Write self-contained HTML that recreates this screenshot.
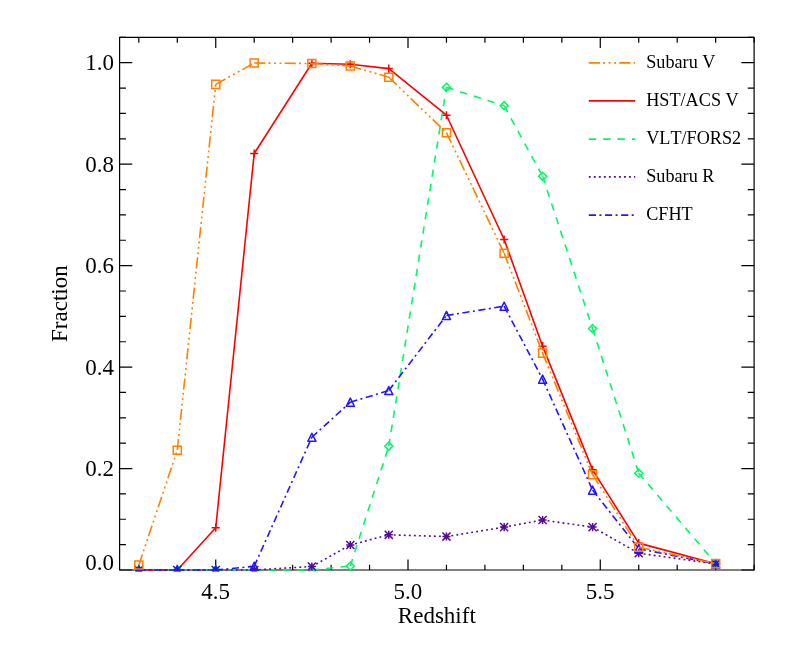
<!DOCTYPE html>
<html><head><meta charset="utf-8"><title>Fraction vs Redshift</title>
<style>
html,body{margin:0;padding:0;background:#fff;}
body{width:789px;height:646px;overflow:hidden;}
svg{display:block;will-change:transform;}
text{font-family:"Liberation Serif",serif;fill:#000;font-kerning:none;}
</style></head><body>
<svg width="789" height="646" viewBox="0 0 789 646">
<rect width="789" height="646" fill="#fff"/>

<g stroke="#000" stroke-width="1.2" fill="none" stroke-linecap="butt">
<rect x="119.6" y="37.36" width="634.50" height="532.64" stroke-linejoin="round"/>
<path d="M138.83 570.0V564.70M138.83 37.36V42.66M177.28 570.0V564.70M177.28 37.36V42.66M215.74 570.0V559.40M215.74 37.36V47.96M254.19 570.0V564.70M254.19 37.36V42.66M292.65 570.0V564.70M292.65 37.36V42.66M331.10 570.0V564.70M331.10 37.36V42.66M369.55 570.0V564.70M369.55 37.36V42.66M408.01 570.0V559.40M408.01 37.36V47.96M446.46 570.0V564.70M446.46 37.36V42.66M484.92 570.0V564.70M484.92 37.36V42.66M523.37 570.0V564.70M523.37 37.36V42.66M561.83 570.0V564.70M561.83 37.36V42.66M600.28 570.0V559.40M600.28 37.36V47.96M638.74 570.0V564.70M638.74 37.36V42.66M677.19 570.0V564.70M677.19 37.36V42.66M715.65 570.0V564.70M715.65 37.36V42.66M754.10 570.0V564.70M754.10 37.36V42.66M119.6 570.00H132.30M754.1 570.00H741.40M119.6 544.64H125.95M754.1 544.64H747.75M119.6 519.27H125.95M754.1 519.27H747.75M119.6 493.91H125.95M754.1 493.91H747.75M119.6 468.54H132.30M754.1 468.54H741.40M119.6 443.18H125.95M754.1 443.18H747.75M119.6 417.82H125.95M754.1 417.82H747.75M119.6 392.45H125.95M754.1 392.45H747.75M119.6 367.09H132.30M754.1 367.09H741.40M119.6 341.73H125.95M754.1 341.73H747.75M119.6 316.36H125.95M754.1 316.36H747.75M119.6 291.00H125.95M754.1 291.00H747.75M119.6 265.63H132.30M754.1 265.63H741.40M119.6 240.27H125.95M754.1 240.27H747.75M119.6 214.91H125.95M754.1 214.91H747.75M119.6 189.54H125.95M754.1 189.54H747.75M119.6 164.18H132.30M754.1 164.18H741.40M119.6 138.82H125.95M754.1 138.82H747.75M119.6 113.45H125.95M754.1 113.45H747.75M119.6 88.09H125.95M754.1 88.09H747.75M119.6 62.72H132.30M754.1 62.72H741.40M119.6 37.36H125.95M754.1 37.36H747.75"/>
</g>
<g font-size="23px">
<text transform="translate(215.54 598.60) scale(1 1.035)" text-anchor="middle">4.5</text>
<text transform="translate(407.81 598.60) scale(1 1.035)" text-anchor="middle">5.0</text>
<text transform="translate(600.08 598.60) scale(1 1.035)" text-anchor="middle">5.5</text>
<text transform="translate(113.90 570.30) scale(1 1.035)" text-anchor="end">0.0</text>
<text transform="translate(113.90 476.24) scale(1 1.035)" text-anchor="end">0.2</text>
<text transform="translate(113.90 374.79) scale(1 1.035)" text-anchor="end">0.4</text>
<text transform="translate(113.90 273.33) scale(1 1.035)" text-anchor="end">0.6</text>
<text transform="translate(113.90 171.88) scale(1 1.035)" text-anchor="end">0.8</text>
<text transform="translate(113.90 70.42) scale(1 1.035)" text-anchor="end">1.0</text>
<text transform="translate(436.80 622.80) scale(1 1.0)" text-anchor="middle">Redshift</text>
<text transform="translate(67.10 303.60) rotate(-90) scale(1 1.0)" text-anchor="middle">Fraction</text>
</g>
<clipPath id="c"><rect x="118.19999999999999" y="35.96" width="637.30" height="535.44"/></clipPath>
<g clip-path="url(#c)">
<path d="M138.83 570.00L177.28 570.00L215.74 527.72L254.19 153.56L311.87 63.26L350.33 64.28L388.78 68.59L446.46 115.23L504.15 239.50L542.60 346.17L592.59 469.87L638.74 543.14L715.65 563.67" fill="none" stroke="#ff0000" stroke-width="1.6" stroke-linejoin="round"/>
<path d="M134.78 570.00H142.88M138.83 565.95V574.05" stroke="#ff0000" stroke-width="1.5" fill="none" stroke-linejoin="round"/>
<path d="M173.23 570.00H181.33M177.28 565.95V574.05" stroke="#ff0000" stroke-width="1.5" fill="none" stroke-linejoin="round"/>
<path d="M211.69 527.72H219.79M215.74 523.67V531.77" stroke="#ff0000" stroke-width="1.5" fill="none" stroke-linejoin="round"/>
<path d="M250.14 153.56H258.24M254.19 149.51V157.61" stroke="#ff0000" stroke-width="1.5" fill="none" stroke-linejoin="round"/>
<path d="M307.82 63.26H315.92M311.87 59.21V67.31" stroke="#ff0000" stroke-width="1.5" fill="none" stroke-linejoin="round"/>
<path d="M346.28 64.28H354.38M350.33 60.23V68.33" stroke="#ff0000" stroke-width="1.5" fill="none" stroke-linejoin="round"/>
<path d="M384.73 68.59H392.83M388.78 64.54V72.64" stroke="#ff0000" stroke-width="1.5" fill="none" stroke-linejoin="round"/>
<path d="M442.41 115.23H450.51M446.46 111.18V119.28" stroke="#ff0000" stroke-width="1.5" fill="none" stroke-linejoin="round"/>
<path d="M500.10 239.50H508.20M504.15 235.45V243.55" stroke="#ff0000" stroke-width="1.5" fill="none" stroke-linejoin="round"/>
<path d="M538.55 346.17H546.65M542.60 342.12V350.22" stroke="#ff0000" stroke-width="1.5" fill="none" stroke-linejoin="round"/>
<path d="M588.54 469.87H596.64M592.59 465.82V473.92" stroke="#ff0000" stroke-width="1.5" fill="none" stroke-linejoin="round"/>
<path d="M634.69 543.14H642.79M638.74 539.09V547.19" stroke="#ff0000" stroke-width="1.5" fill="none" stroke-linejoin="round"/>
<path d="M711.60 563.67H719.70M715.65 559.62V567.72" stroke="#ff0000" stroke-width="1.5" fill="none" stroke-linejoin="round"/>
<path d="M138.83 570.00L177.28 570.00M177.28 570.00L215.74 570.00M215.74 570.00L254.19 570.00M254.19 570.00L311.87 570.00M311.87 570.00L350.33 566.00M350.33 566.00L388.78 446.10M388.78 446.10L446.46 87.35M446.46 87.35L504.15 105.70M504.15 105.70L542.60 176.32M542.60 176.32L592.59 328.52M592.59 328.52L638.74 473.17M638.74 473.17L715.65 563.42" fill="none" stroke="#00fa64" stroke-width="1.6" stroke-dasharray="7.4 6.95" stroke-linejoin="round"/>
<path d="M134.78 570.00L138.83 565.95L142.88 570.00L138.83 574.05Z" stroke="#00fa64" stroke-width="1.5" fill="none" stroke-linejoin="miter"/>
<path d="M173.23 570.00L177.28 565.95L181.33 570.00L177.28 574.05Z" stroke="#00fa64" stroke-width="1.5" fill="none" stroke-linejoin="miter"/>
<path d="M211.69 570.00L215.74 565.95L219.79 570.00L215.74 574.05Z" stroke="#00fa64" stroke-width="1.5" fill="none" stroke-linejoin="miter"/>
<path d="M250.14 570.00L254.19 565.95L258.24 570.00L254.19 574.05Z" stroke="#00fa64" stroke-width="1.5" fill="none" stroke-linejoin="miter"/>
<path d="M307.82 570.00L311.87 565.95L315.92 570.00L311.87 574.05Z" stroke="#00fa64" stroke-width="1.5" fill="none" stroke-linejoin="miter"/>
<path d="M346.28 566.00L350.33 561.95L354.38 566.00L350.33 570.05Z" stroke="#00fa64" stroke-width="1.5" fill="none" stroke-linejoin="miter"/>
<path d="M384.73 446.10L388.78 442.05L392.83 446.10L388.78 450.15Z" stroke="#00fa64" stroke-width="1.5" fill="none" stroke-linejoin="miter"/>
<path d="M442.41 87.35L446.46 83.30L450.51 87.35L446.46 91.40Z" stroke="#00fa64" stroke-width="1.5" fill="none" stroke-linejoin="miter"/>
<path d="M500.10 105.70L504.15 101.65L508.20 105.70L504.15 109.75Z" stroke="#00fa64" stroke-width="1.5" fill="none" stroke-linejoin="miter"/>
<path d="M538.55 176.32L542.60 172.27L546.65 176.32L542.60 180.37Z" stroke="#00fa64" stroke-width="1.5" fill="none" stroke-linejoin="miter"/>
<path d="M588.54 328.52L592.59 324.47L596.64 328.52L592.59 332.57Z" stroke="#00fa64" stroke-width="1.5" fill="none" stroke-linejoin="miter"/>
<path d="M634.69 473.17L638.74 469.12L642.79 473.17L638.74 477.22Z" stroke="#00fa64" stroke-width="1.5" fill="none" stroke-linejoin="miter"/>
<path d="M711.60 563.42L715.65 559.37L719.70 563.42L715.65 567.47Z" stroke="#00fa64" stroke-width="1.5" fill="none" stroke-linejoin="miter"/>
<path d="M138.83 570.00L177.28 570.00M177.28 570.00L215.74 570.00M215.74 570.00L254.19 570.00M254.19 570.00L311.87 566.46M311.87 566.46L350.33 544.96M350.33 544.96L388.78 534.82M388.78 534.82L446.46 536.55M446.46 536.55L504.15 527.11M504.15 527.11L542.60 520.02M542.60 520.02L592.59 527.11M592.59 527.11L638.74 553.28M638.74 553.28L715.65 563.92" fill="none" stroke="#560a9c" stroke-width="1.6" stroke-dasharray="1.9 3.12" stroke-linejoin="round"/>
<path d="M134.78 570.00H142.88M138.83 565.95V574.05M134.78 565.95L142.88 574.05M134.78 574.05L142.88 565.95" stroke="#560a9c" stroke-width="1.5" fill="none" stroke-linejoin="round"/>
<path d="M173.23 570.00H181.33M177.28 565.95V574.05M173.23 565.95L181.33 574.05M173.23 574.05L181.33 565.95" stroke="#560a9c" stroke-width="1.5" fill="none" stroke-linejoin="round"/>
<path d="M211.69 570.00H219.79M215.74 565.95V574.05M211.69 565.95L219.79 574.05M211.69 574.05L219.79 565.95" stroke="#560a9c" stroke-width="1.5" fill="none" stroke-linejoin="round"/>
<path d="M250.14 570.00H258.24M254.19 565.95V574.05M250.14 565.95L258.24 574.05M250.14 574.05L258.24 565.95" stroke="#560a9c" stroke-width="1.5" fill="none" stroke-linejoin="round"/>
<path d="M307.82 566.46H315.92M311.87 562.41V570.51M307.82 562.41L315.92 570.51M307.82 570.51L315.92 562.41" stroke="#560a9c" stroke-width="1.5" fill="none" stroke-linejoin="round"/>
<path d="M346.28 544.96H354.38M350.33 540.91V549.01M346.28 540.91L354.38 549.01M346.28 549.01L354.38 540.91" stroke="#560a9c" stroke-width="1.5" fill="none" stroke-linejoin="round"/>
<path d="M384.73 534.82H392.83M388.78 530.77V538.87M384.73 530.77L392.83 538.87M384.73 538.87L392.83 530.77" stroke="#560a9c" stroke-width="1.5" fill="none" stroke-linejoin="round"/>
<path d="M442.41 536.55H450.51M446.46 532.50V540.60M442.41 532.50L450.51 540.60M442.41 540.60L450.51 532.50" stroke="#560a9c" stroke-width="1.5" fill="none" stroke-linejoin="round"/>
<path d="M500.10 527.11H508.20M504.15 523.06V531.16M500.10 523.06L508.20 531.16M500.10 531.16L508.20 523.06" stroke="#560a9c" stroke-width="1.5" fill="none" stroke-linejoin="round"/>
<path d="M538.55 520.02H546.65M542.60 515.97V524.07M538.55 515.97L546.65 524.07M538.55 524.07L546.65 515.97" stroke="#560a9c" stroke-width="1.5" fill="none" stroke-linejoin="round"/>
<path d="M588.54 527.11H596.64M592.59 523.06V531.16M588.54 523.06L596.64 531.16M588.54 531.16L596.64 523.06" stroke="#560a9c" stroke-width="1.5" fill="none" stroke-linejoin="round"/>
<path d="M634.69 553.28H642.79M638.74 549.23V557.33M634.69 549.23L642.79 557.33M634.69 557.33L642.79 549.23" stroke="#560a9c" stroke-width="1.5" fill="none" stroke-linejoin="round"/>
<path d="M711.60 563.92H719.70M715.65 559.87V567.97M711.60 559.87L719.70 567.97M711.60 567.97L719.70 559.87" stroke="#560a9c" stroke-width="1.5" fill="none" stroke-linejoin="round"/>
<path d="M138.83 570.00L177.28 570.00M177.28 570.00L215.74 570.00M215.74 570.00L254.19 566.31M254.19 566.31L311.87 437.27M311.87 437.27L350.33 402.19M350.33 402.19L388.78 390.53M388.78 390.53L446.46 315.49M446.46 315.49L504.15 306.22M504.15 306.22L542.60 379.17M542.60 379.17L592.59 490.10M592.59 490.10L638.74 548.71M638.74 548.71L715.65 563.92" fill="none" stroke="#2414ff" stroke-width="1.6" stroke-dasharray="7.2 3.4 2.0 3.55" stroke-linejoin="round"/>
<path d="M134.78 574.05L138.83 565.95L142.88 574.05Z" stroke="#2414ff" stroke-width="1.5" fill="none" stroke-linejoin="round"/>
<path d="M173.23 574.05L177.28 565.95L181.33 574.05Z" stroke="#2414ff" stroke-width="1.5" fill="none" stroke-linejoin="round"/>
<path d="M211.69 574.05L215.74 565.95L219.79 574.05Z" stroke="#2414ff" stroke-width="1.5" fill="none" stroke-linejoin="round"/>
<path d="M250.14 570.36L254.19 562.26L258.24 570.36Z" stroke="#2414ff" stroke-width="1.5" fill="none" stroke-linejoin="round"/>
<path d="M307.82 441.32L311.87 433.22L315.92 441.32Z" stroke="#2414ff" stroke-width="1.5" fill="none" stroke-linejoin="round"/>
<path d="M346.28 406.24L350.33 398.14L354.38 406.24Z" stroke="#2414ff" stroke-width="1.5" fill="none" stroke-linejoin="round"/>
<path d="M384.73 394.58L388.78 386.48L392.83 394.58Z" stroke="#2414ff" stroke-width="1.5" fill="none" stroke-linejoin="round"/>
<path d="M442.41 319.54L446.46 311.44L450.51 319.54Z" stroke="#2414ff" stroke-width="1.5" fill="none" stroke-linejoin="round"/>
<path d="M500.10 310.27L504.15 302.17L508.20 310.27Z" stroke="#2414ff" stroke-width="1.5" fill="none" stroke-linejoin="round"/>
<path d="M538.55 383.22L542.60 375.12L546.65 383.22Z" stroke="#2414ff" stroke-width="1.5" fill="none" stroke-linejoin="round"/>
<path d="M588.54 494.15L592.59 486.05L596.64 494.15Z" stroke="#2414ff" stroke-width="1.5" fill="none" stroke-linejoin="round"/>
<path d="M634.69 552.76L638.74 544.66L642.79 552.76Z" stroke="#2414ff" stroke-width="1.5" fill="none" stroke-linejoin="round"/>
<path d="M711.60 567.97L715.65 559.87L719.70 567.97Z" stroke="#2414ff" stroke-width="1.5" fill="none" stroke-linejoin="round"/>
<path d="M138.83 564.99L177.28 450.20M177.28 450.20L215.74 84.40M215.74 84.40L254.19 63.01M254.19 63.01L311.87 63.52M311.87 63.52L350.33 66.05M350.33 66.05L388.78 77.21M388.78 77.21L446.46 132.72M446.46 132.72L504.15 253.23M504.15 253.23L542.60 353.11M542.60 353.11L592.59 474.69M592.59 474.69L638.74 547.19M638.74 547.19L715.65 563.67" fill="none" stroke="#ff7f00" stroke-width="1.6" stroke-dasharray="11.15 3.25 1.9 3.57 1.9 3.57 1.9 3.21" stroke-linejoin="round"/>
<path d="M134.78 560.94H142.88V569.04H134.78Z" stroke="#ff7f00" stroke-width="1.5" fill="none" stroke-linejoin="miter"/>
<path d="M173.23 446.15H181.33V454.25H173.23Z" stroke="#ff7f00" stroke-width="1.5" fill="none" stroke-linejoin="miter"/>
<path d="M211.69 80.35H219.79V88.45H211.69Z" stroke="#ff7f00" stroke-width="1.5" fill="none" stroke-linejoin="miter"/>
<path d="M250.14 58.96H258.24V67.06H250.14Z" stroke="#ff7f00" stroke-width="1.5" fill="none" stroke-linejoin="miter"/>
<path d="M307.82 59.47H315.92V67.57H307.82Z" stroke="#ff7f00" stroke-width="1.5" fill="none" stroke-linejoin="miter"/>
<path d="M346.28 62.00H354.38V70.10H346.28Z" stroke="#ff7f00" stroke-width="1.5" fill="none" stroke-linejoin="miter"/>
<path d="M384.73 73.16H392.83V81.26H384.73Z" stroke="#ff7f00" stroke-width="1.5" fill="none" stroke-linejoin="miter"/>
<path d="M442.41 128.67H450.51V136.77H442.41Z" stroke="#ff7f00" stroke-width="1.5" fill="none" stroke-linejoin="miter"/>
<path d="M500.10 249.18H508.20V257.28H500.10Z" stroke="#ff7f00" stroke-width="1.5" fill="none" stroke-linejoin="miter"/>
<path d="M538.55 349.06H546.65V357.16H538.55Z" stroke="#ff7f00" stroke-width="1.5" fill="none" stroke-linejoin="miter"/>
<path d="M588.54 470.64H596.64V478.74H588.54Z" stroke="#ff7f00" stroke-width="1.5" fill="none" stroke-linejoin="miter"/>
<path d="M634.69 543.14H642.79V551.24H634.69Z" stroke="#ff7f00" stroke-width="1.5" fill="none" stroke-linejoin="miter"/>
<path d="M711.60 559.62H719.70V567.72H711.60Z" stroke="#ff7f00" stroke-width="1.5" fill="none" stroke-linejoin="miter"/>
</g>
<g font-size="18.2px">
<line x1="588.8" y1="62.9" x2="635.2" y2="62.9" stroke="#ff7f00" stroke-width="1.8" stroke-dasharray="11.15 3.25 1.9 3.57 1.9 3.57 1.9 3.21"/>
<text transform="translate(646.20 68.20) scale(1 1.0)" text-anchor="start">Subaru V</text>
<line x1="588.8" y1="100.9" x2="635.2" y2="100.9" stroke="#ff0000" stroke-width="1.8"/>
<text transform="translate(646.20 106.20) scale(1 1.0)" text-anchor="start">HST/ACS V</text>
<line x1="588.8" y1="139.1" x2="635.2" y2="139.1" stroke="#00fa64" stroke-width="1.8" stroke-dasharray="7.4 6.95"/>
<text transform="translate(646.20 144.40) scale(1 1.0)" text-anchor="start">VLT/FORS2</text>
<line x1="588.8" y1="176.9" x2="635.2" y2="176.9" stroke="#560a9c" stroke-width="1.8" stroke-dasharray="1.9 3.12"/>
<text transform="translate(646.20 182.20) scale(1 1.0)" text-anchor="start">Subaru R</text>
<line x1="588.8" y1="215.1" x2="635.2" y2="215.1" stroke="#2414ff" stroke-width="1.8" stroke-dasharray="7.2 3.4 2.0 3.55"/>
<text transform="translate(646.20 220.40) scale(1 1.0)" text-anchor="start">CFHT</text>
</g>
</svg></body></html>
